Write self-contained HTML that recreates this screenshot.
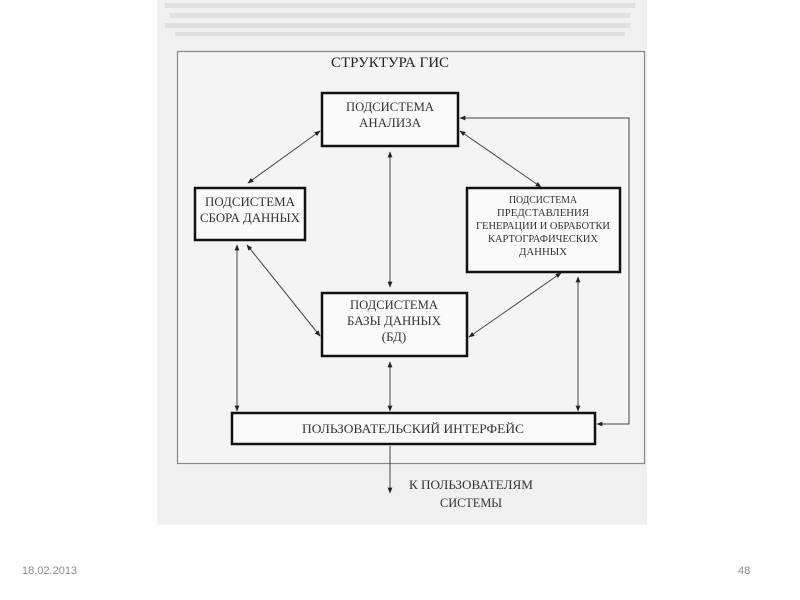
<!DOCTYPE html>
<html><head><meta charset="utf-8"><style>
body{margin:0;width:800px;height:600px;background:#fff;overflow:hidden;position:relative;font-family:"Liberation Sans",sans-serif}
svg{position:absolute;left:0;top:0}
.f{position:absolute;font-size:11px;color:#8a8a8a}
</style></head><body>
<svg width="800" height="600" viewBox="0 0 800 600" font-family="Liberation Serif, serif" fill="#333">
<defs><marker id="a" viewBox="0 0 10 10" refX="9" refY="5" markerWidth="6" markerHeight="6" orient="auto-start-reverse"><path d="M0,1L10,5L0,9z" fill="#222"/></marker></defs>
<rect x="157" y="0" width="490" height="525" fill="#f0f0f0"/>
<g fill="#e0e0e0"><rect x="165" y="3" width="470" height="5"/><rect x="170" y="13" width="460" height="5"/><rect x="165" y="23" width="465" height="5"/><rect x="175" y="32" width="450" height="4"/></g>
<rect x="177.5" y="51.5" width="467" height="412" fill="#f4f4f4" stroke="#888" stroke-width="1.2"/>
<g fill="#fafafa" stroke="#111" stroke-width="2.5">
<rect x="322" y="93" width="136" height="53"/>
<rect x="195" y="188" width="110" height="52"/>
<rect x="467" y="188" width="153" height="84"/>
<rect x="322" y="293" width="145" height="63"/>
<rect x="232" y="413" width="363" height="31"/>
</g>
<g stroke="#444" stroke-width="1" fill="none" marker-start="url(#a)" marker-end="url(#a)">
<line x1="390" y1="152" x2="390" y2="287"/>
<line x1="320" y1="131" x2="248" y2="183"/>
<line x1="460" y1="131" x2="541" y2="187"/>
<line x1="247" y1="245" x2="320" y2="336"/>
<line x1="237" y1="245" x2="237" y2="411"/>
<line x1="561" y1="273" x2="469" y2="337"/>
<line x1="578" y1="277" x2="578" y2="411"/>
<line x1="390" y1="362" x2="390" y2="411"/>
<polyline points="597,424 629,424 629,118 460,118"/>
</g>
<line x1="390" y1="446" x2="390" y2="493" stroke="#444" stroke-width="1" marker-end="url(#a)"/>
<g font-size="13" text-anchor="middle">
<text x="390" y="67" font-size="15" fill="#222">СТРУКТУРА  ГИС</text>
<text x="390" y="111" textLength="88" lengthAdjust="spacingAndGlyphs">ПОДСИСТЕМА</text>
<text x="390" y="127" textLength="62" lengthAdjust="spacingAndGlyphs">АНАЛИЗА</text>
<text x="250" y="206" textLength="90" lengthAdjust="spacingAndGlyphs">ПОДСИСТЕМА</text>
<text x="250" y="222" textLength="100" lengthAdjust="spacingAndGlyphs">СБОРА ДАННЫХ</text>
<text x="543" y="203" font-size="10" textLength="68" lengthAdjust="spacingAndGlyphs">ПОДСИСТЕМА</text>
<text x="543" y="216" font-size="10" textLength="92" lengthAdjust="spacingAndGlyphs">ПРЕДСТАВЛЕНИЯ</text>
<text x="543" y="229" font-size="10" textLength="134" lengthAdjust="spacingAndGlyphs">ГЕНЕРАЦИИ И ОБРАБОТКИ</text>
<text x="543" y="242" font-size="10" textLength="110" lengthAdjust="spacingAndGlyphs">КАРТОГРАФИЧЕСКИХ</text>
<text x="543" y="255" font-size="10" textLength="48" lengthAdjust="spacingAndGlyphs">ДАННЫХ</text>
<text x="394" y="309" textLength="88" lengthAdjust="spacingAndGlyphs">ПОДСИСТЕМА</text>
<text x="394" y="325" textLength="94" lengthAdjust="spacingAndGlyphs">БАЗЫ ДАННЫХ</text>
<text x="394" y="341">(БД)</text>
<text x="413" y="433" textLength="222" lengthAdjust="spacingAndGlyphs">ПОЛЬЗОВАТЕЛЬСКИЙ  ИНТЕРФЕЙС</text>
<text x="471" y="489" textLength="124" lengthAdjust="spacingAndGlyphs">К ПОЛЬЗОВАТЕЛЯМ</text>
<text x="471" y="507" textLength="62" lengthAdjust="spacingAndGlyphs">СИСТЕМЫ</text>
</g>
</svg>
<div class="f" style="left:22px;top:565px">18.02.2013</div>
<div class="f" style="left:738px;top:565px">48</div>
</body></html>
